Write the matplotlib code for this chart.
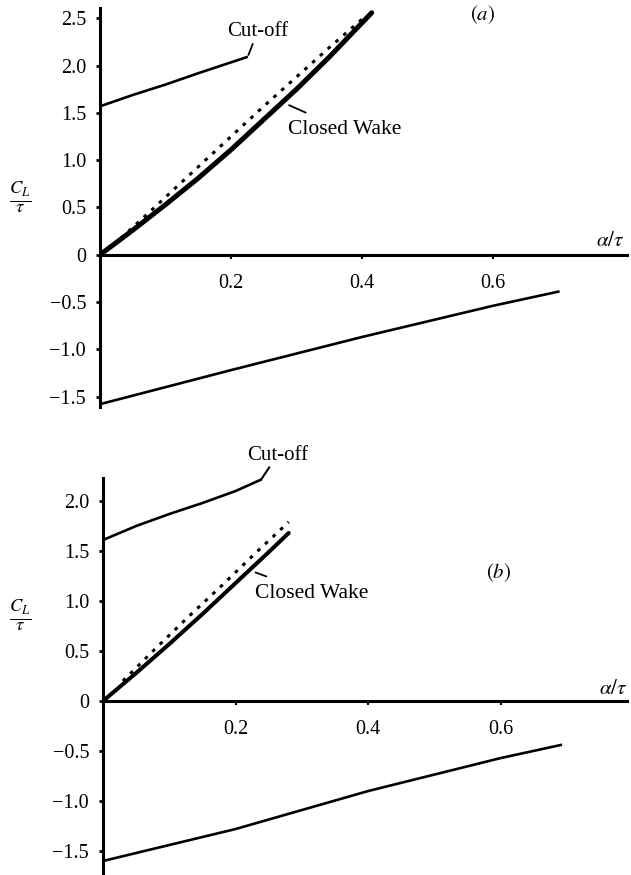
import matplotlib.pyplot as plt

plt.rcParams['font.family'] = ['Liberation Serif', 'DejaVu Serif']
plt.rcParams['mathtext.fontset'] = 'stix'

# ---- panel (a) values ----
cut_a_x = [0.0, 0.05, 0.10, 0.15, 0.224]
cut_a_y = [1.57, 1.69, 1.80, 1.92, 2.09]

wake_a_x = [0.0, 0.05, 0.10, 0.15, 0.20, 0.25, 0.30, 0.35, 0.415]
wake_a_y = [0.0, 0.26, 0.53, 0.81, 1.11, 1.43, 1.75, 2.09, 2.56]

dot_a_x = [0.02, 0.08, 0.15, 0.20, 0.25, 0.30, 0.35, 0.40]
dot_a_y = [0.10, 0.48, 0.93, 1.25, 1.57, 1.88, 2.19, 2.49]

low_a_x = [0.0, 0.2, 0.4, 0.6, 0.70]
low_a_y = [-1.58, -1.22, -0.87, -0.54, -0.39]

# ---- panel (b) values ----
cut_b_x = [0.0, 0.05, 0.10, 0.15, 0.20, 0.237]
cut_b_y = [1.61, 1.75, 1.87, 1.98, 2.10, 2.21]

wake_b_x = [0.0, 0.05, 0.10, 0.15, 0.20, 0.25, 0.28]
wake_b_y = [0.0, 0.28, 0.57, 0.87, 1.18, 1.49, 1.68]

dot_b_x = [0.03, 0.08, 0.13, 0.18, 0.23, 0.28]
dot_b_y = [0.20, 0.53, 0.85, 1.16, 1.48, 1.79]

low_b_x = [0.0, 0.2, 0.4, 0.6, 0.69]
low_b_y = [-1.60, -1.28, -0.90, -0.57, -0.44]

x_ticks = [0.2, 0.4, 0.6]
x_labels = ['0.2', '0.4', '0.6']
ya_ticks = [-1.5, -1.0, -0.5, 0, 0.5, 1.0, 1.5, 2.0, 2.5]
ya_labels = ['\u22121.5', '\u22121.0', '\u22120.5', '0', '0.5', '1.0', '1.5', '2.0', '2.5']
yb_ticks = [-1.5, -1.0, -0.5, 0, 0.5, 1.0, 1.5, 2.0]
yb_labels = ['\u22121.5', '\u22121.0', '\u22120.5', '0', '0.5', '1.0', '1.5', '2.0']

W, H = 631, 875
fig = plt.figure(figsize=(W / 100, H / 100), dpi=100)


def px_axes(left, right, top, bottom):
    return fig.add_axes([left / W, 1 - bottom / H, (right - left) / W, (bottom - top) / H])


def style(ax, yt, yl):
    for s in ['top', 'right']:
        ax.spines[s].set_visible(False)
    ax.spines['left'].set_position('zero')
    ax.spines['bottom'].set_position('zero')
    for s in ['left', 'bottom']:
        ax.spines[s].set_linewidth(2.2)
    ax.set_xticks(x_ticks)
    ax.set_xticklabels(x_labels)
    ax.set_yticks(yt)
    ax.set_yticklabels(yl)
    ax.tick_params(axis='y', length=3, width=2, direction='out', pad=7, labelsize=14.5)
    ax.tick_params(axis='x', length=3, width=1.5, direction='out', pad=11, labelsize=14.5)
    ax.patch.set_visible(False)


# panel (a)
ax1 = px_axes(100, 627, 8, 407)
ax1.set_xlim(0, 0.805)
ax1.set_ylim(-1.61, 2.61)
style(ax1, ya_ticks, ya_labels)
ax1.plot(cut_a_x, cut_a_y, color='black', lw=1.9)
ax1.plot(wake_a_x, wake_a_y, color='black', lw=3.6, solid_capstyle='round')
ax1.plot(dot_a_x, dot_a_y, color='black', lw=2.2, linestyle=(0, (1.2, 2.2)))
ax1.plot(low_a_x, low_a_y, color='black', lw=1.9)
ax1.annotate('Cut-off', xy=(0.226, 2.10), xytext=(0.194, 2.36), fontsize=15,
             va='center', ha='left',
             arrowprops=dict(arrowstyle='-', lw=1.3, shrinkA=12, shrinkB=1))
ax1.annotate('Closed Wake', xy=(0.283, 1.60), xytext=(0.287, 1.32), fontsize=15.5,
             va='center', ha='left',
             arrowprops=dict(arrowstyle='-', lw=1.3, shrinkA=9, shrinkB=3))
ax1.text(0.585, 2.54, r'$(a)$', fontsize=15, ha='center', va='center')
ax1.text(0.80, 0.14, r'$\alpha/\tau$', fontsize=15, ha='right', va='center')
fig.text(20 / W, 1 - 197 / H, r'$\frac{C_L}{\tau}$', fontsize=19, ha='center', va='center')

# panel (b)
ax2 = px_axes(103, 627, 478, 873)
ax2.set_xlim(0, 0.79)
ax2.set_ylim(-1.72, 2.23)
style(ax2, yb_ticks, yb_labels)
ax2.plot(cut_b_x, cut_b_y, color='black', lw=1.9)
ax2.plot(wake_b_x, wake_b_y, color='black', lw=2.9, solid_capstyle='round')
ax2.plot(dot_b_x, dot_b_y, color='black', lw=2.2, linestyle=(0, (1.2, 2.2)))
ax2.plot(low_b_x, low_b_y, color='black', lw=1.9)
ax2.annotate('Cut-off', xy=(0.238, 2.21), xytext=(0.217, 2.46), fontsize=15,
             va='center', ha='left',
             arrowprops=dict(arrowstyle='-', lw=1.5, shrinkA=17, shrinkB=0))
ax2.annotate('Closed Wake', xy=(0.224, 1.30), xytext=(0.229, 1.08), fontsize=15.5,
             va='center', ha='left',
             arrowprops=dict(arrowstyle='-', lw=1.3, shrinkA=9, shrinkB=3))
ax2.text(0.596, 1.28, r'$(b)$', fontsize=15, ha='center', va='center')
ax2.text(0.79, 0.11, r'$\alpha/\tau$', fontsize=15, ha='right', va='center')
fig.text(20 / W, 1 - 615 / H, r'$\frac{C_L}{\tau}$', fontsize=19, ha='center', va='center')

fig.savefig('out.png', dpi=100)
